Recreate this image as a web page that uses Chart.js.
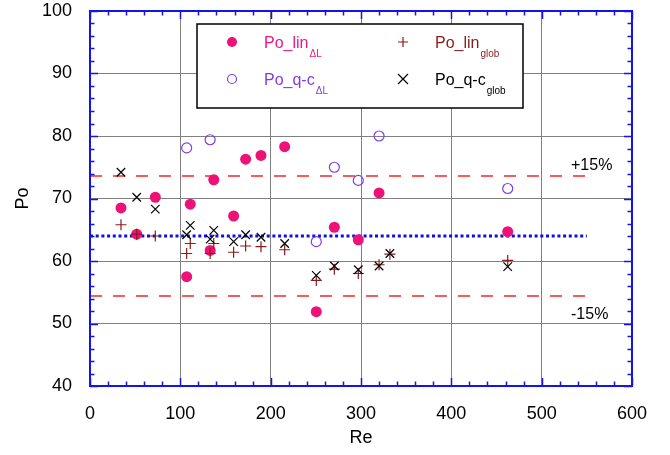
<!DOCTYPE html>
<html>
<head>
<meta charset="utf-8">
<script src="https://cdn.jsdelivr.net/npm/chart.js@4"></script>
<style>
  html, body { margin: 0; padding: 0; background: #fff; }
</style>
</head>
<body>
<canvas id="chart" width="670" height="455"></canvas>
<script>
// Re values of the cases
const reDL = [34.3, 51.7, 72.3, 107, 111, 133, 137, 159, 172.3, 189.3, 215.5, 250.5, 270.5, 297, 320, 462.4];
const poLinDL = [68.5, 64.3, 70.2, 57.5, 69.1, 61.7, 73.0, 67.2, 76.3, 76.9, 78.3, 51.9, 65.4, 63.4, 70.9, 64.7];

const reQcDL = [107, 133, 250.5, 270.5, 297, 320, 462.4];
const poQcDL = [78.1, 79.4, 63.1, 75.0, 72.9, 80.0, 71.6];

const reGlob = [34.3, 51.7, 72.3, 107, 111, 133, 137, 159, 172.3, 189.3, 215.5, 250.5, 270.5, 297, 320, 332, 462.4];
const poLinGlob = [65.8, 64.3, 64.0, 61.2, 62.8, 61.2, 62.8, 61.4, 62.4, 62.3, 61.8, 56.9, 58.7, 58.0, 59.4, 61.1, 60.1];
const poQcGlob = [74.2, 70.2, 68.3, 64.2, 65.7, 63.5, 64.9, 63.1, 64.2, 63.8, 62.8, 57.7, 59.2, 58.6, 59.2, 61.2, 59.1];

// reference lines: mean and +/-15%
const refRe = [0, 550];
const poRef = 64;
const poUpper = [73.6, 73.6];
const poMean = [poRef, poRef];
const poLower = [54.4, 54.4];

const xTicks = [0, 100, 200, 300, 400, 500, 600];
const yTicks = [40, 50, 60, 70, 80, 90, 100];

const FONT = "'Liberation Sans', Arial, Helvetica, sans-serif";
const pts = (xs, ys) => xs.map((x, i) => ({ x: x, y: ys[i] }));

// frame with inner ticks, legend box and the +/-15% labels
const decor = {
    id: "decor",
    afterDraw(chart) {
        const c = chart.ctx;
        const a = chart.chartArea;
        const xs = chart.scales.x, ys = chart.scales.y;
        c.save();
        c.strokeStyle = "#1414e6";
        c.lineWidth = 1.5;
        c.beginPath();
        for (let v = xTicks[0]; v <= xTicks[xTicks.length - 1]; v += 20) {
            const len = v % 100 === 0 ? 8 : 4.5;
            const px = Math.round(xs.getPixelForValue(v)) + 0.5;
            c.moveTo(px, a.bottom); c.lineTo(px, a.bottom - len);
            c.moveTo(px, a.top); c.lineTo(px, a.top + len);
        }
        for (let v = yTicks[0]; v <= yTicks[yTicks.length - 1]; v += 2) {
            const len = v % 10 === 0 ? 8 : 4.5;
            const py = Math.round(ys.getPixelForValue(v)) + 0.5;
            c.moveTo(a.left, py); c.lineTo(a.left + len, py);
            c.moveTo(a.right, py); c.lineTo(a.right - len, py);
        }
        c.stroke();
        c.lineWidth = 2;
        c.strokeRect(a.left, a.top, a.right - a.left, a.bottom - a.top);

        // +/-15% labels
        c.fillStyle = "#000";
        c.font = "16px " + FONT;
        c.textAlign = "left";
        c.textBaseline = "alphabetic";
        c.fillText("+15%", 571, 170);
        c.fillText("-15%", 571, 319);

        // legend
        c.fillStyle = "#fff";
        c.fillRect(197, 24, 326, 84);
        c.strokeStyle = "#000";
        c.lineWidth = 1.5;
        c.strokeRect(197, 24, 326, 84);

        const entry = (mx, my, draw, text, sub, color) => {
            draw(mx, my);
            c.fillStyle = color;
            c.font = "16px " + FONT;
            c.fillText(text, mx + 32, my + 6);
            const w = c.measureText(text).width;
            c.font = "10px " + FONT;
            c.fillText(sub, mx + 33 + w, my + 15);
        };
        entry(232, 42, (x, y) => {
            c.fillStyle = "#ee1177";
            c.beginPath(); c.arc(x, y, 5, 0, Math.PI * 2); c.fill();
        }, "Po_lin", "\u0394L", "#ee1a86");
        entry(232, 79, (x, y) => {
            c.strokeStyle = "#7b3fe6"; c.lineWidth = 1.2;
            c.beginPath(); c.arc(x, y, 4.5, 0, Math.PI * 2); c.stroke();
        }, "Po_q-c", "\u0394L", "#7b3fe6");
        entry(403, 42, (x, y) => {
            c.strokeStyle = "#8b1a1a"; c.lineWidth = 1.2;
            c.beginPath(); c.moveTo(x - 5, y); c.lineTo(x + 5, y);
            c.moveTo(x, y - 5); c.lineTo(x, y + 5); c.stroke();
        }, "Po_lin", "glob", "#8b1a1a");
        entry(403, 79, (x, y) => {
            c.strokeStyle = "#000"; c.lineWidth = 1.2;
            c.beginPath(); c.moveTo(x - 5, y - 5); c.lineTo(x + 5, y + 5);
            c.moveTo(x + 5, y - 5); c.lineTo(x - 5, y + 5); c.stroke();
        }, "Po_q-c", "glob", "#000");
        c.restore();
    }
};

const refLine = (ys, color, dash, width) => ({
    type: "line",
    data: pts(refRe, ys),
    showLine: true,
    borderColor: color,
    borderDash: dash,
    borderWidth: width,
    pointRadius: 0,
    fill: false,
    order: 5
});

new Chart(document.getElementById("chart"), {
    type: "scatter",
    data: {
        datasets: [
            { label: "Po_q-c glob", data: pts(reGlob, poQcGlob), pointStyle: "crossRot", pointRadius: 6,
              borderColor: "#000", backgroundColor: "#000", borderWidth: 1.2, order: 0 },
            { label: "Po_lin glob", data: pts(reGlob, poLinGlob), pointStyle: "cross", pointRadius: 5.5,
              borderColor: "#8b1a1a", backgroundColor: "#8b1a1a", borderWidth: 1.2, order: 1 },
            { label: "Po_q-c dL", data: pts(reQcDL, poQcDL), pointStyle: "circle", pointRadius: 5,
              borderColor: "#7b3fe6", backgroundColor: "rgba(0,0,0,0)", borderWidth: 1.2, order: 2 },
            { label: "Po_lin dL", data: pts(reDL, poLinDL), pointStyle: "circle", pointRadius: 5.5,
              borderColor: "#ee1177", backgroundColor: "#ee1177", borderWidth: 0, order: 3 },
            refLine(poUpper, "#f02828", [12, 11], 1.3),
            refLine(poLower, "#f02828", [12, 11], 1.3),
            refLine(poMean, "#1010d8", [3, 2.7], 2.8)
        ]
    },
    options: {
        responsive: false,
        animation: false,
        layout: { padding: { left: 0, top: 11, right: 38, bottom: 0 } },
        plugins: { legend: { display: false }, tooltip: { enabled: false } },
        scales: {
            x: {
                type: "linear", min: 0, max: 600,
                afterBuildTicks: s => { s.ticks = xTicks.map(v => ({ value: v })); },
                ticks: { color: "#000", font: { family: FONT, size: 18 }, padding: 0, maxRotation: 0 },
                grid: { color: "#808080", lineWidth: 1, drawTicks: true, tickLength: 17, tickColor: "rgba(0,0,0,0)" },
                border: { display: false },
                title: { display: true, text: "Re", color: "#000", font: { family: FONT, size: 18 }, padding: { top: 0, bottom: 6 } },
                afterFit: s => { s.height = 69; }
            },
            y: {
                type: "linear", min: 40, max: 100,
                afterBuildTicks: s => { s.ticks = yTicks.map(v => ({ value: v })); },
                ticks: { color: "#000", font: { family: FONT, size: 18 }, padding: 0 },
                grid: { color: "#808080", lineWidth: 1, drawTicks: true, tickLength: 18, tickColor: "rgba(0,0,0,0)" },
                border: { display: false },
                title: { display: true, text: "Po", color: "#000", font: { family: FONT, size: 18 }, padding: { top: 12, bottom: 0 } },
                afterFit: s => { s.width = 90; }
            }
        }
    },
    plugins: [decor]
});
</script>
</body>
</html>
